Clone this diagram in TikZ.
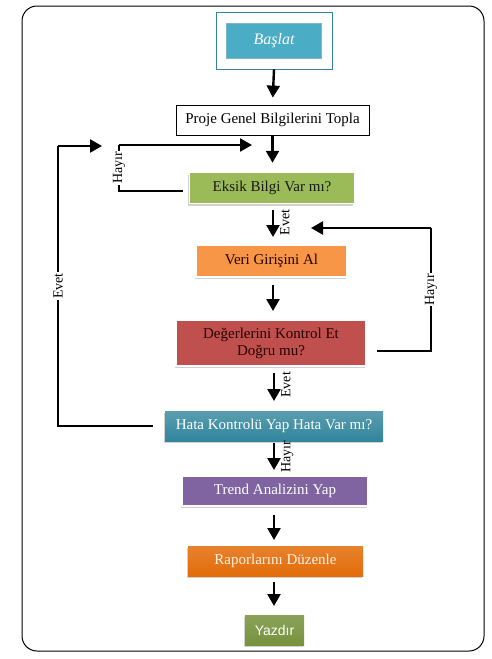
\documentclass[tikz,border=0pt]{standalone}
\usepackage{fontspec}
\setmainfont{Liberation Serif}
\newfontfamily\yzfont{Liberation Sans}
\usetikzlibrary{arrows.meta,shadows}
\definecolor{tealA}{HTML}{4BACC6}
\definecolor{tealB}{HTML}{31859C}
\definecolor{greenA}{HTML}{9BBB59}
\definecolor{orangeA}{HTML}{F79646}
\definecolor{redA}{HTML}{C0504D}
\definecolor{purpleA}{HTML}{8064A2}
\definecolor{orangeB}{HTML}{E36C09}
\definecolor{greenB}{HTML}{76923C}
\tikzset{
  box/.style={draw=white, line width=1.5pt, minimum height=30pt, inner sep=2pt,
    font=\fontsize{15}{17}\selectfont, align=center,
    drop shadow={shadow xshift=-1.5pt, shadow yshift=-2pt, fill=black!30, opacity=0.6}},
  arr/.style={line width=2.4pt, -{Triangle[length=12pt,width=13pt]}},
  lin/.style={line width=2.4pt},
  lbl/.style={rotate=90, font=\fontsize{14}{16}\selectfont, inner sep=1pt},
  lblw/.style={lbl, fill=white},
}
\begin{document}
\begin{tikzpicture}[x=1pt,y=-1pt]
\useasboundingbox (0,0) rectangle (491,659);
\draw[line width=1pt, rounded corners=15pt] (22,6) rectangle (484,651);
% nodes
\node[draw=tealB, line width=0.8pt, minimum width=116pt, minimum height=57pt] (bas) at (274,40.5) {};
\node[fill=tealA, draw=tealB!60, line width=0.5pt, minimum width=95pt, minimum height=35pt,
  text=white, font=\fontsize{16}{18}\selectfont\itshape] (basin) at (274,40.5) {Başlat};
\node[draw=black, line width=0.8pt, minimum width=193pt, minimum height=30pt,
  font=\fontsize{15}{17}\selectfont] (proje) at (272.5,120) {Proje Genel Bilgilerini Topla};
\node[box, fill=greenA, minimum width=165pt, minimum height=31pt, text=black!90] (eksik) at (272,188) {Eksik Bilgi Var mı?};
\node[box, fill=orangeA, minimum width=151pt, minimum height=32pt, text=black!85!red] (veri) at (271.5,261) {Veri Girişini Al};
\node[box, fill=redA, minimum width=190pt, minimum height=46pt, text=black!85!red] (deger) at (271,343) {Değerlerini Kontrol Et\\Doğru mu?};
\node[box, draw=none, top color=tealB!80!white, bottom color=tealB, minimum width=218pt, minimum height=30pt, text=white] (hata) at (274,426) {Hata Kontrolü Yap Hata Var mı?};
\node[box, fill=purpleA, minimum width=186pt, minimum height=30pt, text=white] (trend) at (275,491) {Trend Analizini Yap};
\node[box, draw=none, top color=orangeB!85!white, bottom color=orangeB, minimum width=175pt, minimum height=30pt, text=orange!10!white] (rapor) at (275.5,561) {Raporlarını Düzenle};
\node[box, draw=none, top color=greenB!85!white, bottom color=greenB, minimum width=59pt, minimum height=30pt, text=white, font=\yzfont\fontsize{14}{16}\selectfont] (yaz) at (274.5,630) {Yazdır};
% helper coordinates
\coordinate (xh) at (119,0);
\coordinate (xe) at (58,0);
\coordinate (xr) at (431,0);
\coordinate (ya) at (0,191);
\coordinate (yb) at (0,351);
\coordinate (h1) at (252,145);
\coordinate (e1) at (102,146);
\coordinate (r1) at (311,228);
% main arrows
\draw[arr, shorten >=7pt] (bas.south) -- (proje.north);
\draw[arr, shorten >=9pt] (proje.south) -- (proje.south |- eksik.north);
\draw[arr, shorten <=6pt, shorten >=8pt] (eksik.south -| 273,0) -- (273,245)
  node[xshift=5pt, pos=0.45, anchor=north, lbl] {Evet};
\draw[arr, shorten <=7pt, shorten >=9pt] (veri.south -| 273,0) -- (273,320);
\draw[arr, shorten <=7pt, shorten >=10pt] (274,366) -- (274,411)
  node[xshift=5pt, pos=0.42, anchor=north, lbl] {Evet};
\draw[arr, shorten <=2pt, shorten >=6pt] (274,441) -- (274,476)
  node[xshift=5pt, pos=0.45, anchor=north, lbl] {Hayır};
\draw[arr, shorten <=8pt, shorten >=6pt] (trend.south -| 274,0) -- (274,546);
\draw[arr, shorten <=5pt, shorten >=9pt] (rapor.south -| 274,0) -- (274,615);
% loops
\draw[lin, shorten <=6pt] (eksik.west |- ya) -- (xh |- ya) -- (xh |- h1)
  node[pos=0.5, lblw] {Hayır};
\draw[arr] (xh |- h1) -- (h1);
\draw[lin, shorten <=11pt] (hata.west) -- (xe |- hata.west) -- (xe |- e1)
  node[pos=0.5, lblw] {Evet};
\draw[arr] (xe |- e1) -- (e1);
\draw[lin, shorten <=10pt] (deger.east |- yb) -- (xr |- yb) -- (xr |- r1)
  node[pos=0.5, lblw] {Hayır};
\draw[arr] (xr |- r1) -- (r1);
\end{tikzpicture}
\end{document}
